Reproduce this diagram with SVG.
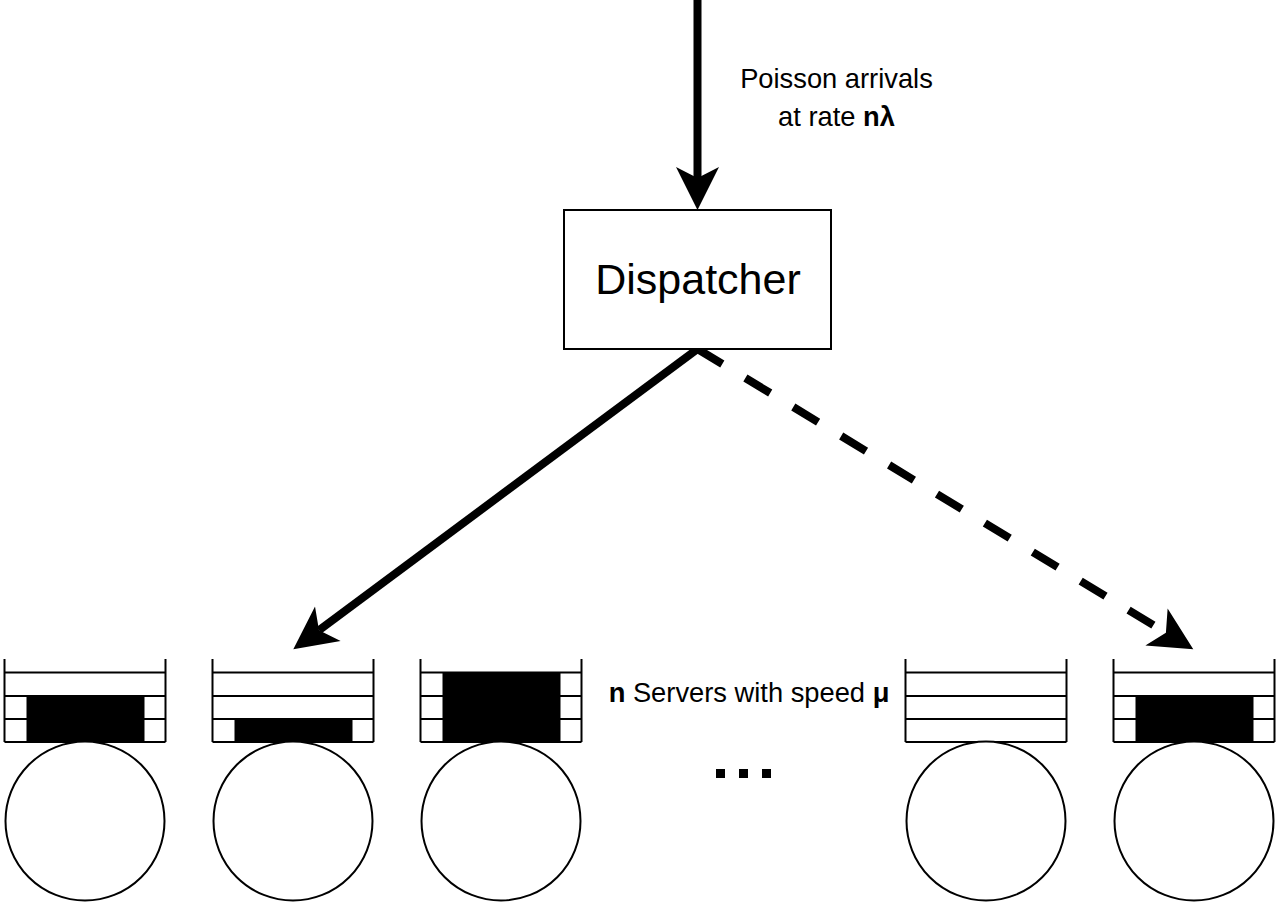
<svg xmlns="http://www.w3.org/2000/svg" width="1277" height="910" viewBox="0 0 1277 910">
  <style>
    .txt { font-family: "Liberation Sans", Arial, Helvetica, sans-serif; fill: #000; }
    .q { fill: none; stroke: #000; stroke-width: 2; }
    .job { fill: #000; stroke: none; }
    .srv { fill: #fff; stroke: #000; stroke-width: 2; }
    .edge { fill: none; stroke: #000; stroke-width: 8; stroke-linecap: butt; }
    .dash { stroke-dasharray: 29 27; }
  </style>
  <defs>
    <!-- classic notched arrowhead; tip sits 32px beyond the line end -->
    <marker id="arrow" markerUnits="userSpaceOnUse" viewBox="-12 -23 46 46" markerWidth="46" markerHeight="46" refX="0" refY="0" orient="auto" overflow="visible">
      <path d="M32,0 L-11,-21.5 L0,0 L-11,21.5 Z" fill="#000"/>
    </marker>
    <!-- open-top queue with three slots -->
    <g id="queue">
      <path class="q" d="M0,659 V742 M161,659 V742 M0,672.5 H161 M0,696 H161 M0,719 H161 M0,742 H161"/>
    </g>
  </defs>

  <g id="connectors">
    <line class="edge" x1="697.5" y1="0" x2="697.5" y2="178" marker-end="url(#arrow)"/>
    <line class="edge" x1="697.5" y1="349" x2="319" y2="630.2" marker-end="url(#arrow)"/>
    <line class="edge dash" x1="697.5" y1="349" x2="1165.9" y2="632.7" marker-end="url(#arrow)"/>
  </g>

  <g id="arrivals-label">
    <text class="txt" x="836.5" y="88" font-size="27.3" text-anchor="middle">Poisson arrivals</text>
    <text class="txt" x="836.5" y="126" font-size="27.3" text-anchor="middle">at rate <tspan font-weight="bold">nλ</tspan></text>
  </g>

  <g id="dispatcher">
    <rect x="564" y="210" width="267" height="139" fill="#fff" stroke="#000" stroke-width="2"/>
    <text class="txt" x="698" y="294" font-size="43" text-anchor="middle">Dispatcher</text>
  </g>

  <g id="server1">
    <use href="#queue" x="4.5"/>
    <rect class="job" x="26.5" y="696" width="118" height="46"/>
    <circle class="srv" cx="85" cy="821" r="79.5"/>
  </g>

  <g id="server2">
    <use href="#queue" x="212.5"/>
    <rect class="job" x="234.5" y="719" width="118" height="23"/>
    <circle class="srv" cx="293" cy="821" r="79.5"/>
  </g>

  <g id="server3">
    <use href="#queue" x="420.5"/>
    <rect class="job" x="442.5" y="672.5" width="118" height="69.5"/>
    <circle class="srv" cx="501" cy="821" r="79.5"/>
  </g>

  <g id="servers-label">
    <text class="txt" x="749" y="702" font-size="27.3" text-anchor="middle"><tspan font-weight="bold">n</tspan> Servers with speed <tspan font-weight="bold">μ</tspan></text>
  </g>

  <g id="ellipsis">
    <rect class="job" x="716" y="769" width="9" height="9"/>
    <rect class="job" x="739" y="769" width="9" height="9"/>
    <rect class="job" x="762" y="769" width="9" height="9"/>
  </g>

  <g id="server4">
    <use href="#queue" x="905.5"/>
    <circle class="srv" cx="986" cy="821" r="79.5"/>
  </g>

  <g id="server5">
    <use href="#queue" x="1113.5"/>
    <rect class="job" x="1135.5" y="696" width="118" height="46"/>
    <circle class="srv" cx="1194" cy="821" r="79.5"/>
  </g>
</svg>
